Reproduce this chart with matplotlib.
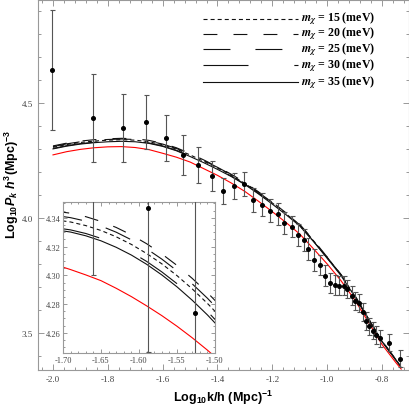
import matplotlib
matplotlib.use('Agg')
import matplotlib.pyplot as plt
from matplotlib.lines import Line2D
from matplotlib.ticker import MultipleLocator, FormatStrFormatter

plt.rcParams['lines.scale_dashes'] = False
plt.rcParams['mathtext.fontset'] = 'custom'
plt.rcParams['mathtext.rm'] = 'Liberation Sans:bold'
plt.rcParams['mathtext.bf'] = 'Liberation Sans:bold'
plt.rcParams['mathtext.it'] = 'Liberation Sans:bold:italic'

# ---------------- data ----------------
k_data = [-2.004, -1.854, -1.745, -1.66, -1.588, -1.526, -1.47, -1.42, -1.38, -1.34,
          -1.303, -1.269, -1.238, -1.208, -1.181, -1.156, -1.129, -1.108, -1.086, -1.069,
          -1.047, -1.026, -1.007, -0.989, -0.971, -0.956, -0.94, -0.926, -0.910, -0.898,
          -0.883, -0.870, -0.858, -0.846, -0.833, -0.821, -0.809, -0.773, -0.734]
P_data = [4.643, 4.435, 4.392, 4.417, 4.347, 4.274, 4.23, 4.183, 4.117, 4.139,
          4.148, 4.078, 4.058, 4.032, 4.017, 3.978, 3.962, 3.926, 3.904, 3.865,
          3.817, 3.796, 3.749, 3.717, 3.709, 3.706, 3.706, 3.691, 3.662, 3.640,
          3.630, 3.590, 3.553, 3.529, 3.510, 3.491, 3.477, 3.457, 3.387]
P_err = [0.26, 0.19, 0.147, 0.117, 0.10, 0.087, 0.08, 0.065, 0.058, 0.058,
         0.053, 0.051, 0.05, 0.05, 0.048, 0.048, 0.047, 0.047, 0.047, 0.046,
         0.046, 0.045, 0.045, 0.044, 0.043, 0.042, 0.042, 0.041, 0.041, 0.040,
         0.040, 0.039, 0.039, 0.038, 0.038, 0.038, 0.038, 0.037, 0.037]

k_main = [-2.00, -1.95, -1.90, -1.85, -1.80, -1.75, -1.70, -1.65, -1.60, -1.55, -1.50,
          -1.45, -1.40, -1.35, -1.30, -1.25, -1.20, -1.15, -1.10, -1.05, -1.00, -0.95,
          -0.90, -0.85, -0.80, -0.75, -0.73]
m15 = [4.307, 4.319, 4.328, 4.334, 4.338, 4.340, 4.338, 4.331, 4.318, 4.299, 4.274,
       4.246, 4.217, 4.186, 4.150, 4.109, 4.065, 4.018, 3.969, 3.901, 3.828, 3.753,
       3.663, 3.562, 3.464, 3.384, 3.352]
m20 = [4.313, 4.325, 4.334, 4.340, 4.344, 4.346, 4.344, 4.337, 4.324, 4.305, 4.280,
       4.252, 4.222, 4.190, 4.154, 4.113, 4.069, 4.022, 3.972, 3.904, 3.830, 3.755,
       3.665, 3.564, 3.466, 3.386, 3.354]
m25 = [4.310, 4.322, 4.331, 4.337, 4.341, 4.343, 4.341, 4.334, 4.321, 4.302, 4.277,
       4.249, 4.220, 4.188, 4.152, 4.111, 4.067, 4.020, 3.970, 3.902, 3.829, 3.754,
       3.664, 3.563, 3.465, 3.385, 3.353]
m30 = [4.302, 4.314, 4.323, 4.329, 4.333, 4.335, 4.333, 4.326, 4.313, 4.294, 4.269,
       4.242, 4.213, 4.182, 4.147, 4.106, 4.062, 4.015, 3.966, 3.899, 3.826, 3.751,
       3.661, 3.561, 3.463, 3.383, 3.351]
m35 = [4.300, 4.312, 4.321, 4.327, 4.331, 4.333, 4.331, 4.324, 4.311, 4.292, 4.267,
       4.240, 4.211, 4.180, 4.145, 4.104, 4.060, 4.014, 3.965, 3.898, 3.825, 3.750,
       3.660, 3.560, 3.462, 3.382, 3.350]
ref_red = [4.274, 4.288, 4.298, 4.305, 4.309, 4.310, 4.306, 4.297, 4.281, 4.264, 4.243,
           4.214, 4.185, 4.152, 4.115, 4.072, 4.027, 3.980, 3.930, 3.866, 3.800, 3.728,
           3.645, 3.548, 3.450, 3.372, 3.343]

# inset (zoomed) curves
k_in = [-1.71, -1.69, -1.67, -1.65, -1.63, -1.61, -1.59, -1.57, -1.55, -1.53, -1.51, -1.49]
in15 = [4.3386, 4.3371, 4.3346, 4.3312, 4.3268, 4.3215, 4.3152, 4.3080, 4.2998, 4.2906, 4.2805, 4.2695]
in20 = [4.3446, 4.3432, 4.3408, 4.3375, 4.3333, 4.3281, 4.3220, 4.3149, 4.3069, 4.2979, 4.2880, 4.2771]
in25 = [4.3416, 4.3401, 4.3377, 4.3343, 4.3300, 4.3247, 4.3185, 4.3113, 4.3032, 4.2941, 4.2841, 4.2731]
in30 = [4.3331, 4.3316, 4.3291, 4.3257, 4.3213, 4.3160, 4.3097, 4.3024, 4.2942, 4.2850, 4.2749, 4.2638]
in35 = [4.3317, 4.3301, 4.3275, 4.3240, 4.3195, 4.3141, 4.3077, 4.3003, 4.2920, 4.2827, 4.2725, 4.2613]
in_red = [4.3074, 4.3040, 4.3003, 4.2963, 4.2910, 4.2852, 4.2788, 4.2720, 4.2646, 4.2566, 4.2480, 4.2388]

masses = ['15', '20', '25', '30', '35']

# ---------------- styles ----------------
styles = {
    '15': (0, (2.9, 2.2)),
    '20': (0, (10.0, 11.6)),
    '25': (0, (19.4, 18.0)),
    '30': (0, (32.4, 33.0)),
    '35': '-',
}
main_curves = {'15': m15, '20': m20, '25': m25, '30': m30, '35': m35}
in_curves = {'15': in15, '20': in20, '25': in25, '30': in30, '35': in35}

W = H = 410
fig = plt.figure(figsize=(4.1, 4.1), dpi=100)
ax = fig.add_axes([38 / W, 1 - 371 / H, (409 - 38) / W, 371 / H - 0.002])

ax.errorbar(k_data, P_data, yerr=P_err, fmt='o', ms=2.6, color='k', ecolor='#555555',
            elinewidth=0.8, capsize=1.8, capthick=0.8, zorder=3)
for m in masses:
    ax.plot(k_main, main_curves[m], color='#111111', lw=0.8, linestyle=styles[m], zorder=2)
ax.plot(k_main, ref_red, color='red', lw=0.8, zorder=2)

ax.set_xlim(-2.0547, -0.7015)
ax.set_ylim(3.339, 4.948)
ax.xaxis.set_major_locator(MultipleLocator(0.2))
ax.xaxis.set_minor_locator(MultipleLocator(0.04))
ax.yaxis.set_major_locator(MultipleLocator(0.5))
ax.yaxis.set_minor_locator(MultipleLocator(0.1))
ax.xaxis.set_major_formatter(FormatStrFormatter('%.1f'))
ax.yaxis.set_major_formatter(FormatStrFormatter('%.1f'))
ax.tick_params(which='both', direction='in', top=True, right=True, color='#888888',
               labelsize=6.5, labelcolor='#444444', width=0.6)
ax.tick_params(which='major', length=4)
ax.tick_params(which='minor', length=2)
for s in ax.spines.values():
    s.set_color('#999999')
    s.set_linewidth(0.8)
for lab in ax.get_xticklabels() + ax.get_yticklabels():
    lab.set_family('Liberation Serif')

# legend drawn by hand (rows in figure pixels from top)
leg_rows = [19.5, 34.5, 50, 66, 83]
for m, yr in zip(masses, leg_rows):
    yf = 1 - yr / H
    fig.add_artist(Line2D([203 / W, 298 / W], [yf, yf], transform=fig.transFigure,
                          color='#111111', lw=0.8, linestyle=styles[m]))
    t = fig.text(301 / W, yf + 0.5 / H, r'$\mathbfit{m}_{\mathbfit{\chi}}$ = ' + m + ' (meV)',
                 ha='left', va='center', fontsize=8.6, fontfamily='Liberation Serif',
                 fontweight='bold')
    t.set_math_fontfamily('stix')

fig.text(223 / W, 1 - 398 / H, r'$\mathregular{Log_{10}k/h\ (Mpc)^{-1}}$', ha='center', va='center',
         fontsize=9, fontfamily='Liberation Sans', fontweight='bold')
fig.text(12 / W, 1 - 184 / H, r'$\mathregular{Log_{10}}\mathit{P_k\ h}^{\mathregular{3}}\mathregular{(Mpc)^{-3}}$',
         ha='center', va='center', rotation=90,
         fontsize=9, fontfamily='Liberation Sans', fontweight='bold')

# ---------------- inset ----------------
axi = fig.add_axes([63 / W, 1 - 354 / H, (215 - 63) / W, (354 - 203) / H], zorder=5)
axi.set_facecolor('white')
axi.errorbar(k_data, P_data, yerr=P_err, fmt='o', ms=2.6, color='k', ecolor='#555555',
             elinewidth=0.8, capsize=1.8, capthick=0.8, zorder=3)
for m in masses:
    axi.plot(k_in, in_curves[m], color='#111111', lw=0.8, linestyle=styles[m], zorder=2)
axi.plot(k_in, in_red, color='red', lw=0.8, zorder=2)
axi.set_xlim(-1.70, -1.50)
axi.set_ylim(4.246, 4.351)
axi.xaxis.set_major_locator(MultipleLocator(0.05))
axi.xaxis.set_minor_locator(MultipleLocator(0.01))
axi.yaxis.set_major_locator(MultipleLocator(0.02))
axi.yaxis.set_minor_locator(MultipleLocator(0.005))
axi.xaxis.set_major_formatter(FormatStrFormatter('%.2f'))
axi.yaxis.set_major_formatter(FormatStrFormatter('%.2f'))
axi.tick_params(which='both', direction='in', top=True, right=True, color='#888888',
                labelsize=6, labelcolor='#444444', width=0.6, pad=2)
axi.tick_params(which='major', length=3)
axi.tick_params(which='minor', length=1.5)
for s in axi.spines.values():
    s.set_color('#999999')
    s.set_linewidth(0.8)
for lab in axi.get_xticklabels() + axi.get_yticklabels():
    lab.set_family('Liberation Serif')

fig.savefig('out.png', dpi=100)
